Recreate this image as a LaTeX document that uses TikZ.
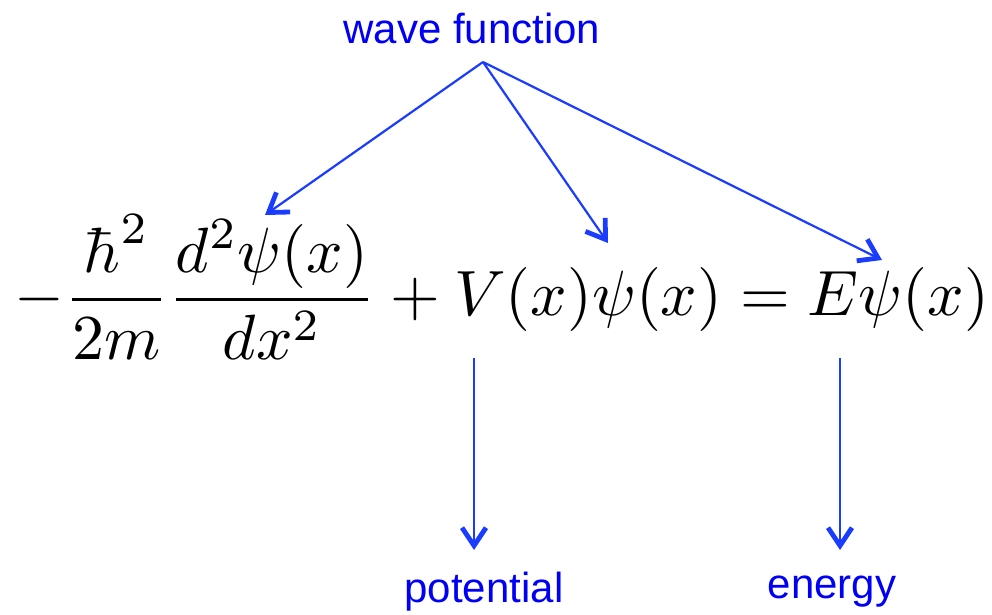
\documentclass[tikz,border=0pt]{standalone}
\usepackage{xcolor}
\usepackage{tikz}
\usepackage{amsmath}
\usepackage{fontspec}
\setsansfont{Liberation Sans}
\usetikzlibrary{arrows.meta}
\definecolor{labblue}{HTML}{0000F5}
\definecolor{arrblue}{HTML}{1A3CFF}
\tikzset{
  lab/.style={text=labblue,font=\sffamily\fontsize{21}{25}\selectfont,inner sep=0pt},
  pointer/.style={arrblue,line width=1.1pt,-{Straight Barb[length=9pt,width=12pt,line width=2.4pt]}}
}
\begin{document}
\begin{tikzpicture}[x=0.5pt,y=-0.5pt]
  \useasboundingbox (0,0) rectangle (992,615);
  \node[scale=3.2,inner sep=0pt] (eq) at (502,287)
    {$\displaystyle -\frac{\hbar^2}{2m}\frac{d^2\psi(x)}{dx^2}+V(x)\psi(x)=E\psi(x)$};
  \node[lab] (wave) at (472,28) {wave function};
  \node[lab] (pot) at (484,592) {potential};
  \node[lab] (en) at (832,592) {energy};
  \coordinate (apex) at (483,62);
  \coordinate (kin) at (265,215);
  \coordinate (vpsi) at (608,243);
  \coordinate (epsi) at (882,260);
  \coordinate (vbot) at (474,358);
  \coordinate (vend) at (474,550);
  \coordinate (ebot) at (840,358);
  \coordinate (eend) at (840,550);
  \draw[pointer] (apex) -- (kin);
  \draw[pointer] (apex) -- (vpsi);
  \draw[pointer] (apex) -- (epsi);
  \draw[pointer] (vbot) -- (vend);
  \draw[pointer] (ebot) -- (eend);
\end{tikzpicture}
\end{document}
